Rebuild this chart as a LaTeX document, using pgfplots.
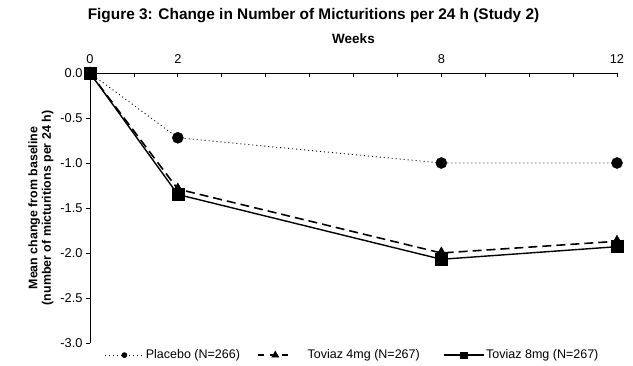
\documentclass[border=0pt]{standalone}
\usepackage{pgfplots}
\pgfplotsset{compat=1.18}
\usepackage{fontspec}
\setmainfont{Liberation Sans}
\pgfplotsset{
 legA/.style={legend image code/.code={\draw[##1, mark size=2.6pt, mark repeat=2, mark phase=2] plot coordinates {(0pt,0pt) (19pt,0pt) (38pt,0pt)};}},
 legB/.style={legend image code/.code={\path (0pt,0pt) (47pt,0pt); \draw[##1, mark size=4pt, mark repeat=2, mark phase=2, dash pattern=on 6pt off 6pt] plot coordinates {(0pt,0pt) (17.5pt,0pt) (35pt,0pt)};}},
 legC/.style={legend image code/.code={\path (-6pt,0pt); \draw[##1, mark size=3.3pt, mark repeat=2, mark phase=2] plot coordinates {(0pt,0pt) (20pt,0pt) (40pt,0pt)};}},
}
\begin{document}
\begin{tikzpicture}[x=1pt,y=1pt]
\path[use as bounding box] (0,0) rectangle (633,366);
\node[font=\fontsize{15.4}{18}\selectfont\bfseries] at (313.5,350) {Figure 3: Change in Number of Micturitions per 24 h (Study 2)};
\begin{axis}[
 at={(90pt,23pt)}, anchor=south west,
 scale only axis, width=527pt, height=270pt,
 xmin=0, xmax=12, ymin=-3, ymax=0,
 axis x line=top, axis y line=left,
 axis line style={-, line width=0.8pt},
 clip=false,
 xtick={0,1,...,12}, xticklabels={0,,2,,,,,,8,,,,12},
 ytick={-3,-2.5,-2,-1.5,-1,-0.5,0}, yticklabels={-3.0,-2.5,-2.0,-1.5,-1.0,-0.5,0.0},
 xtick align=inside, ytick align=outside,
 major tick length=4pt,
 tick style={black, line width=0.8pt},
 tick label style={font=\fontsize{12.8}{15}\selectfont},
 xticklabel style={yshift=6pt},
 xlabel={Weeks},
 xlabel style={font=\fontsize{13.5}{16}\selectfont\bfseries, yshift=4pt},
 ylabel={Mean change from baseline\\(number of micturitions per 24 h)},
 ylabel style={at={(axis description cs:-0.093,0.5)}, anchor=center, align=center, font=\fontsize{12.4}{13.5}\selectfont\bfseries},
 legend columns=3,
 legend style={draw=none, fill=none, inner sep=0pt, at={(axis description cs:0.028,-0.045)}, anchor=west, font=\fontsize{12.5}{15}\selectfont, /tikz/every even column/.append style={column sep=15pt}},
]
\addplot[black, line width=0.9pt, dash pattern=on 1pt off 3pt, mark=*, mark size=5.5pt, mark options={solid, line width=0.5pt}, legA]
 coordinates {(0,0) (2,-0.72) (8,-1.0) (12,-1.0)};
\addlegendentry{Placebo (N=266)}
\addplot[black, line width=1.6pt, dash pattern=on 9pt off 5pt, mark=triangle*, mark size=6pt, mark options={solid, line width=0.5pt}, legB]
 coordinates {(0,0) (2,-1.29) (8,-2.0) (12,-1.87)};
\addlegendentry{Toviaz 4mg (N=267)}
\addplot[black, line width=1.4pt, mark=square*, mark size=6pt, mark options={solid, line width=0.5pt}, legC]
 coordinates {(0,0) (2,-1.35) (8,-2.07) (12,-1.93)};
\addlegendentry{Toviaz 8mg (N=267)}
\end{axis}
\end{tikzpicture}
\end{document}
